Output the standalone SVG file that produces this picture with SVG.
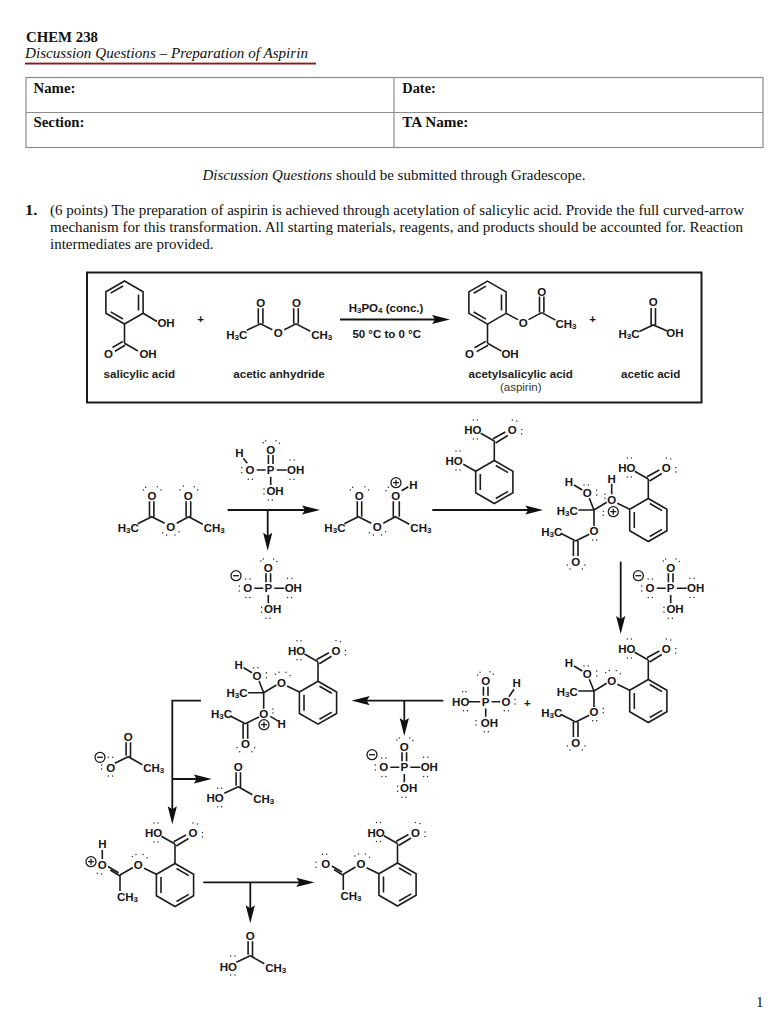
<svg xmlns="http://www.w3.org/2000/svg" width="778" height="1024" viewBox="0 0 778 1024">
<style>
.bg{fill:#fff}
.s{font-family:"Liberation Serif","Times New Roman",serif;font-size:15px;fill:#111}
.sb{font-weight:bold}
.si{font-style:italic}
.t{font-family:"Liberation Sans",Arial,sans-serif;font-size:11.5px;font-weight:bold;fill:#161616;text-anchor:middle;dominant-baseline:central}
.n{font-family:"Liberation Sans",Arial,sans-serif;font-size:11.6px;font-weight:bold;fill:#222;text-anchor:middle}
.r{font-family:"Liberation Sans",Arial,sans-serif;font-size:11.5px;fill:#333;text-anchor:middle}
.u{font-size:8px}
.b{fill:none;stroke:#1c1c1c;stroke-width:1.6;stroke-linejoin:miter}
.lp{fill:none;stroke:#2a2a2a;stroke-width:1.45;stroke-linecap:round}
.c{fill:none;stroke:#1c1c1c;stroke-width:1.3}
.cell{fill:none;stroke:#8c8c8c;stroke-width:1.2}
.ar{fill:none;stroke:#151515;stroke-width:1.8;marker-end:url(#head)}
</style>
<defs>
<marker id="head" markerUnits="userSpaceOnUse" viewBox="0 0 18 10" markerWidth="18" markerHeight="10" refX="12" refY="5" orient="auto"><path d="M18 5L0 .4L3 5L0 9.6Z" fill="#111"/></marker>
<path id="ringA" class="b" d="M0-21.5L18.6-10.75V10.75L0 21.5L-18.6 10.75V-10.75ZM1.5-16.5L13.8-9.4M-14-8V8M1.5 16.5L13.8 9.4"/>
<path id="ringB" class="b" d="M0-21.5L18.6-10.75V10.75L0 21.5L-18.6 10.75V-10.75ZM-1.5-16.5L-13.8-9.4M14-8V8M-1.5 16.5L-13.8 9.4"/>
<path id="coohB" class="b" d="M0-21.5V-41M-13.6-48.7L0-41M-1.3-43.2L11-50M1.3-39L13.5-46.5"/>
<path id="coohL" class="lp" d="M-21-62h.01M-17-62h.01M-21-43h.01M-17-43h.01M18-62h.01M22.5-61h.01M27.5-52.5h.01M27.5-48h.01"/>
<path id="tetB" class="b" d="M-31-16.7L-18.6-10.75M-54.3-10L-41.6-17.7M-54.3-10L-59-21.7M-74.3-35L-66-30M-70-10H-54.3M-54.3-10V6M-59 14.3L-72.6 21M-87.6 13.3L-72.6 21M-74.9 21V36M-70.3 21V36"/>
<path id="tetL" class="lp" d="M-64.3-35h.01M-60-35h.01M-51.6-30h.01M-51.6-25h.01M-81 45h.01M-78.3 49h.01M-63.3 45h.01M-66 49h.01"/>
<path id="etherL" class="lp" d="M-42.6-28.5h.01M-39-30.5h.01M-32-30.5h.01M-28-27.2h.01"/>
<path id="phosB" class="b" d="M-14 0H-5M6 0H16M-2.3-6V-15M2.3-6V-15M0 6.7V15"/>
<path id="phosL" class="lp" d="M-7.4-27.3h.01M-5-29.3h.01M5.3-29.3h.01M8.6-26.7h.01M-29-2.3h.01M-29 2.7h.01M-22.4 9.3h.01M-18.4 9.3h.01M19.3-10h.01M23.6-10h.01M19.3 9.3h.01M23.3 9.3h.01M-6.7 19h.01M-6.7 24h.01M-2.4 30h.01M1.6 30h.01"/>
<g id="plus"><circle class="c" r="5"/><path class="c" d="M-3 0H3M0-3V3"/></g>
<g id="minus"><circle class="c" r="5"/><path class="c" d="M-3 0H3"/></g>
<path id="acetB" class="b" d="M-2.2-14.5V-1M2.2-14.5V1M-14 6.5L0 0M0 0L14 8"/>
</defs>
<rect class="bg" width="778" height="1024"/>

<g id="header">
<text class="s sb" x="26" y="42" textLength="72" lengthAdjust="spacingAndGlyphs">CHEM 238</text>
<text class="s si" x="25" y="58" textLength="283" lengthAdjust="spacingAndGlyphs">Discussion Questions – Preparation of Aspirin</text>
<rect x="25" y="62.6" width="291" height="1.9" fill="#8a1c1c"/>
</g>
<g id="form-table">
<rect class="cell" x="26" y="77.5" width="737" height="70"/>
<path class="cell" d="M26 112.5H763M394 77.5V147.5"/>
<text class="s sb" x="33.5" y="92.7" textLength="42" lengthAdjust="spacingAndGlyphs">Name:</text>
<text class="s sb" x="402.3" y="92.7" textLength="33.5" lengthAdjust="spacingAndGlyphs">Date:</text>
<text class="s sb" x="33.5" y="127.3" textLength="51" lengthAdjust="spacingAndGlyphs">Section:</text>
<text class="s sb" x="402.3" y="127.3" textLength="66" lengthAdjust="spacingAndGlyphs">TA Name:</text>
</g>
<g id="instructions">
<text class="s" x="202.5" y="180" textLength="383" lengthAdjust="spacingAndGlyphs"><tspan class="si">Discussion Questions</tspan> should be submitted through Gradescope.</text>
<text class="s sb" x="25" y="215" textLength="12.5" lengthAdjust="spacingAndGlyphs">1.</text>
<text class="s" x="50" y="215" textLength="694" lengthAdjust="spacingAndGlyphs">(6 points) The preparation of aspirin is achieved through acetylation of salicylic acid. Provide the full curved-arrow</text>
<text class="s" x="50" y="232" textLength="693" lengthAdjust="spacingAndGlyphs">mechanism for this transformation. All starting materials, reagents, and products should be accounted for. Reaction</text>
<text class="s" x="50" y="249" textLength="163.5" lengthAdjust="spacingAndGlyphs">intermediates are provided.</text>
<text class="s" x="756" y="1007">1</text>
</g>

<rect id="reaction-box" x="87" y="272.5" width="614.5" height="130" fill="none" stroke="#1a1a1a" stroke-width="2"/>

<g id="connectors">
<path class="ar" d="M340 319.5H444"/>
<path class="ar" d="M227.7 510H314"/>
<path class="ar" d="M267.7 510V544.7"/>
<path class="ar" d="M432.3 510H537.3"/>
<path class="ar" d="M620.7 561.7V628"/>
<path class="ar" d="M443.3 700.7H357.7"/>
<path class="ar" d="M404.3 700.7V730"/>
<path class="ar" d="M201 700.7H172.3V818.3"/>
<path class="ar" d="M172.3 779H205.7"/>
<path class="ar" d="M203.3 882.3H308.3"/>
<path class="ar" d="M250.3 882.3V917.3"/>
</g>

<g id="box-salicylic" transform="translate(124.5 302.5)">
<use href="#ringB"/>
<path class="b" d="M18.6 10.75L32.5 19M0 21.5V40.8M0 40.8L13.5 48.5M-1.6 38.9L-12 45M.6 42.8L-9.6 48.8"/>
<text class="t" x="41.5" y="20">OH</text><text class="t" x="-16" y="51">O</text><text class="t" x="23.5" y="51">OH</text>
</g>
<g id="box-plus-1"><text class="t" x="200.7" y="319.3">+</text></g>
<g id="box-anhydride" transform="translate(278.3 333.3)">
<path class="b" d="M-31.5-3L-17.7-9.5L-6-3.5M6-3.5L17.7-9.5L32-2M-20-9.5V-25M-15.4-9.5V-25M15.4-9.5V-25M20-9.5V-25"/>
<text class="t" x="0" y="0">O</text><text class="t" x="-17.7" y="-30.6">O</text><text class="t" x="18.3" y="-30.6">O</text>
<text class="t" x="-41.6" y="1.7">H<tspan class="u" dy="2">3</tspan><tspan dy="-2">C</tspan></text>
<text class="t" x="43.4" y="1.7">CH<tspan class="u" dy="2">3</tspan></text>
</g>
<g id="box-conditions">
<text class="t" x="386" y="307.5">H<tspan class="u" dy="2">3</tspan><tspan dy="-2">PO</tspan><tspan class="u" dy="2">4</tspan><tspan dy="-2"> (conc.)</tspan></text>
<text class="t" x="386.7" y="334">50 °C to 0 °C</text>
</g>
<g id="box-aspirin" transform="translate(487.5 302.6)">
<use href="#ringB"/>
<path class="b" d="M18.6 10.75L30.5 17M41 17L54.2 10M54.2 10L68 17.5M52 10V-6M56.4 10V-6M0 21.5V40.7M0 40.7L14 48.5M-1.6 38.8L-13 45.2M.6 42.7L-10.8 49"/>
<text class="t" x="35.8" y="20">O</text><text class="t" x="54.2" y="-11">O</text>
<text class="t" x="78.5" y="21.7">CH<tspan class="u" dy="2">3</tspan></text>
<text class="t" x="-18" y="51.4">O</text><text class="t" x="22.5" y="51.4">OH</text>
</g>
<g id="box-plus-2"><text class="t" x="592.7" y="319.3">+</text></g>
<g id="box-acetic" transform="translate(653.3 325)">
<path class="b" d="M-2.2-17V0M2.2-17V0M-14 6.5L0 0L14 6"/>
<text class="t" x="0" y="-22.7">O</text>
<text class="t" x="-24.3" y="9.3">H<tspan class="u" dy="2">3</tspan><tspan dy="-2">C</tspan></text>
<text class="t" x="21.7" y="8.3">OH</text>
</g>
<g id="box-labels">
<text class="n" x="139.3" y="378">salicylic acid</text>
<text class="n" x="279" y="378">acetic anhydride</text>
<text class="n" x="520.7" y="378">acetylsalicylic acid</text>
<text class="r" x="520.7" y="391">(aspirin)</text>
<text class="n" x="650.7" y="378">acetic acid</text>
</g>

<g id="anhydride" transform="translate(170.7 526.7)">
<path class="b" d="M-33-3L-19-10L-6-3.5M6-3.5L18-10L32-2.5M-21.2-10V-25.5M-16.8-10V-25.5M15.4-10V-25.5M20-10V-25.5"/>
<text class="t" x="0" y="0">O</text><text class="t" x="-18.7" y="-30.7">O</text><text class="t" x="17.6" y="-30.7">O</text>
<text class="t" x="-42.4" y="1">H<tspan class="u" dy="2">3</tspan><tspan dy="-2">C</tspan></text>
<text class="t" x="43.6" y="1">CH<tspan class="u" dy="2">3</tspan></text>
<path class="lp" d="M-27.4-36.7h.01M-25-39.4h.01M-13.4-40h.01M-9.7-36.7h.01M9.3-36.7h.01M12.6-40.7h.01M23.6-40h.01M27-36.7h.01M-8 6h.01M-4 8.3h.01M4.3 8.3h.01M8.3 5h.01"/>
</g>
<g id="protonated-anhydride" transform="translate(377.3 526.7)">
<path class="b" d="M-33-3L-19-10L-6-3.5M6-3.5L18-10L32-2.5M-20-10V-25.5M-15.6-10V-25.5M16-10V-25.5M22-10V-25.5M24.3-36L31-40"/>
<text class="t" x="0" y="0">O</text><text class="t" x="-18" y="-30.7">O</text><text class="t" x="18.4" y="-30.7">O</text>
<text class="t" x="-42.4" y="1">H<tspan class="u" dy="2">3</tspan><tspan dy="-2">C</tspan></text>
<text class="t" x="43.6" y="1">CH<tspan class="u" dy="2">3</tspan></text>
<text class="t" x="36" y="-41.7">H</text>
<use href="#plus" x="18.7" y="-44"/>
<path class="lp" d="M-27-36.7h.01M-24.6-39.4h.01M-12.4-40h.01M-8.7-36.7h.01M8.7-36h.01M11-39.4h.01M-8 6h.01M-4 8.3h.01M4.3 8.3h.01M8.3 5h.01"/>
</g>
<g id="phosphoric-acid-1" transform="translate(270.7 470)">
<use href="#phosB"/><use href="#phosL"/>
<path class="b" d="M-27.4-11.7L-23.4-6.7"/>
<text class="t" x="0" y="0">P</text><text class="t" x="0" y="-20">O</text><text class="t" x="-20.7" y="0">O</text><text class="t" x="25" y="0">OH</text><text class="t" x="4.3" y="21">OH</text><text class="t" x="-31.4" y="-17.3">H</text>
</g>
<g id="phosphate-1" transform="translate(268.3 588.3)">
<use href="#phosB"/><use href="#phosL"/><use href="#minus" x="-32.3" y="-12.6"/>
<path class="lp" d="M-22.6-9.3h.01M-18.3-9.3h.01"/>
<text class="t" x="0" y="0">P</text><text class="t" x="0" y="-20">O</text><text class="t" x="-20.7" y="0">O</text><text class="t" x="25" y="0">OH</text><text class="t" x="4.3" y="21">OH</text>
</g>
<g id="salicylic-acid" transform="translate(494.3 482)">
<use href="#ringA"/><use href="#coohB"/><use href="#coohL"/>
<path class="b" d="M-31-17.7L-18.6-10.75"/>
<text class="t" x="-21.5" y="-52">HO</text><text class="t" x="18" y="-52">O</text><text class="t" x="-40.3" y="-21">HO</text>
<path class="lp" d="M-38.3-31h.01M-34.3-31h.01M-38.3-12h.01M-34.3-12h.01"/>
</g>
<g id="intermediate-1" transform="translate(648.3 520)">
<use href="#ringA"/><use href="#coohB"/><use href="#coohL"/><use href="#tetB"/><use href="#tetL"/>
<path class="b" d="M-36.6-36V-25.7"/>
<path class="lp" d="M-45-8.7h.01M-45-4.7h.01M-55.6 20h.01M-51.6 20h.01M-43.3-25.7h.01M-43.3-21.7h.01"/>
<use href="#plus" x="-35" y="-8.3"/>
<text class="t" x="-21.5" y="-52">HO</text><text class="t" x="18" y="-52">O</text>
<text class="t" x="-61" y="-26.7">O</text><text class="t" x="-79.3" y="-37.7">H</text>
<text class="t" x="-81" y="-9.3">H<tspan class="u" dy="2">3</tspan><tspan dy="-2">C</tspan></text>
<text class="t" x="-54.3" y="11">O</text><text class="t" x="-36.6" y="-20">O</text><text class="t" x="-36.6" y="-41">H</text>
<text class="t" x="-96.6" y="11.7">H<tspan class="u" dy="2">3</tspan><tspan dy="-2">C</tspan></text>
<text class="t" x="-72.6" y="41.7">O</text>
</g>
<g id="phosphate-2" transform="translate(670.7 588.3)">
<use href="#phosB"/><use href="#phosL"/><use href="#minus" x="-32.3" y="-12.6"/>
<path class="lp" d="M-22.6-9.3h.01M-18.3-9.3h.01"/>
<text class="t" x="0" y="0">P</text><text class="t" x="0" y="-20">O</text><text class="t" x="-20.7" y="0">O</text><text class="t" x="25" y="0">OH</text><text class="t" x="4.3" y="21">OH</text>
</g>
<g id="intermediate-2" transform="translate(648.3 701)">
<use href="#ringA"/><use href="#coohB"/><use href="#coohL"/><use href="#tetB"/><use href="#tetL"/><use href="#etherL"/>
<path class="lp" d="M-45 7.5h.01M-45 11.7h.01M-55.6 19.7h.01M-51.6 19.7h.01"/>
<text class="t" x="-21.5" y="-52">HO</text><text class="t" x="18" y="-52">O</text>
<text class="t" x="-61" y="-26.7">O</text><text class="t" x="-79.3" y="-37.7">H</text>
<text class="t" x="-81" y="-9.3">H<tspan class="u" dy="2">3</tspan><tspan dy="-2">C</tspan></text>
<text class="t" x="-54.3" y="11">O</text><text class="t" x="-36.6" y="-20">O</text>
<text class="t" x="-96.6" y="11.7">H<tspan class="u" dy="2">3</tspan><tspan dy="-2">C</tspan></text>
<text class="t" x="-72.6" y="41.7">O</text>
</g>
<g id="phosphoric-acid-2" transform="translate(485.7 701.7)">
<path class="b" d="M-17 0H-5.5M6 0H14.5M-2.3-6V-15M2.3-6V-15M0 6.7V15M23.3-5L28.3-12.4"/>
<text class="t" x="0" y="0">P</text><text class="t" x="0" y="-20.7">O</text><text class="t" x="-25" y="0">HO</text><text class="t" x="20.3" y="0">O</text><text class="t" x="31" y="-18.4">H</text><text class="t" x="3.6" y="21.6">OH</text>
<path class="lp" d="M-8-26.7h.01M-5.7-29.4h.01M4.3-30h.01M7.6-27.4h.01M-23-10h.01M-19.7-10h.01M-22.4 9h.01M-18.4 9h.01M29.3-2.4h.01M29.3 2.3h.01M18.6 9h.01M22.6 9h.01M-9.7 19h.01M-9.7 23.3h.01M-1.4 30h.01M2.6 30h.01"/>
</g>
<g id="plus-sign"><text class="t" x="527.3" y="703.3">+</text></g>
<g id="intermediate-3" transform="translate(318 702.7)">
<use href="#ringA"/><use href="#coohB"/><use href="#coohL"/><use href="#tetB"/><use href="#etherL"/>
<path class="b" d="M-47.7 13.7L-39.4 18.7"/>
<path class="lp" d="M-64.3-35h.01M-60-35h.01M-51.6-30h.01M-51.6-25h.01M-81 45h.01M-78.3 49h.01M-63.3 45h.01M-66 49h.01M-45 6.3h.01M-45 10.3h.01"/>
<use href="#plus" x="-54" y="22"/>
<text class="t" x="-21.5" y="-52">HO</text><text class="t" x="18" y="-52">O</text>
<text class="t" x="-61" y="-26.7">O</text><text class="t" x="-79.3" y="-37.7">H</text>
<text class="t" x="-81" y="-9.3">H<tspan class="u" dy="2">3</tspan><tspan dy="-2">C</tspan></text>
<text class="t" x="-54.3" y="11">O</text><text class="t" x="-36.6" y="-20">O</text><text class="t" x="-36.3" y="21.6">H</text>
<text class="t" x="-96.6" y="11.7">H<tspan class="u" dy="2">3</tspan><tspan dy="-2">C</tspan></text>
<text class="t" x="-72.6" y="41.7">O</text>
</g>
<g id="phosphate-3" transform="translate(404.3 767.3)">
<use href="#phosB"/><use href="#phosL"/><use href="#minus" x="-32.3" y="-12.6"/>
<path class="lp" d="M-22.6-9.3h.01M-18.3-9.3h.01"/>
<text class="t" x="0" y="0">P</text><text class="t" x="0" y="-20">O</text><text class="t" x="-20.7" y="0">O</text><text class="t" x="25" y="0">OH</text><text class="t" x="4.3" y="21">OH</text>
</g>
<g id="acetate" transform="translate(128.3 756.7)">
<path class="b" d="M-2.2-14.5V-1M2.2-14.5V1M-13.5 6.5L0 0L14 8"/>
<text class="t" x="0" y="-20">O</text><text class="t" x="-17.6" y="11.6">O</text>
<text class="t" x="25.4" y="11.6">CH<tspan class="u" dy="2">3</tspan></text>
<use href="#minus" x="-28.3" y=".6"/>
<path class="lp" d="M-20 .6h.01M-15.6 .6h.01M-26.6 8.3h.01M-26.6 12.3h.01M-20 19.3h.01M-15.6 19.3h.01"/>
</g>
<g id="acetic-acid-1" transform="translate(238.3 786.7)">
<use href="#acetB"/>
<text class="t" x="0" y="-20">O</text><text class="t" x="-23.3" y="11.6">HO</text>
<text class="t" x="25.4" y="12.3">CH<tspan class="u" dy="2">3</tspan></text>
<path class="lp" d="M-20.6 1.6h.01M-16.6 1.6h.01M-20.6 20h.01M-16.6 20h.01"/>
</g>
<g id="intermediate-4" transform="translate(175 885)">
<use href="#ringA"/><use href="#coohB"/><use href="#coohL"/><use href="#etherL"/>
<path class="b" d="M-31-16.7L-18.6-10.75M-55-10L-42-17.5M-55-10V6M-72.7-35V-26M-67-18.5L-56.5-12.3M-64.7-15L-54.5-8.8"/>
<text class="t" x="-21.5" y="-52">HO</text><text class="t" x="18" y="-52">O</text>
<text class="t" x="-36.7" y="-20">O</text><text class="t" x="-72.7" y="-20">O</text><text class="t" x="-72.7" y="-41">H</text>
<text class="t" x="-47.5" y="11.7">CH<tspan class="u" dy="2">3</tspan></text>
<use href="#plus" x="-84" y="-23.3"/>
<path class="lp" d="M-77.7-11.7h.01M-73.3-11h.01"/>
</g>
<g id="aspirin" transform="translate(397.5 884.5)">
<use href="#ringA"/><use href="#coohB"/><use href="#coohL"/><use href="#etherL"/>
<path class="b" d="M-31-16.7L-18.6-10.75M-54.2-10.2L-42-17.5M-54.2-10.2V5.5M-65.7-18.5L-55.5-12.5M-63.5-15L-53.5-8.8"/>
<text class="t" x="-21.5" y="-52">HO</text><text class="t" x="18" y="-52">O</text>
<text class="t" x="-36.5" y="-20.2">O</text><text class="t" x="-71.8" y="-20.2">O</text>
<text class="t" x="-46.5" y="11.5">CH<tspan class="u" dy="2">3</tspan></text>
<path class="lp" d="M-75.2-30.2h.01M-70.8-30.2h.01M-81.5-22.2h.01M-81.5-17.2h.01"/>
</g>
<g id="acetic-acid-2" transform="translate(250.3 955.7)">
<use href="#acetB"/>
<text class="t" x="0" y="-20">O</text><text class="t" x="-22" y="11">HO</text>
<text class="t" x="25.4" y="12">CH<tspan class="u" dy="2">3</tspan></text>
<path class="lp" d="M-19.6 .3h.01M-15.3 .3h.01M-19.6 19.3h.01M-15.3 19.3h.01"/>
</g>
</svg>
